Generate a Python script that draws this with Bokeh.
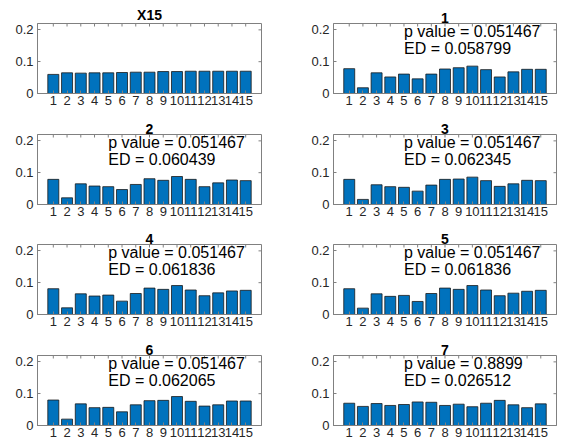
import math
from bokeh.plotting import figure
from bokeh.layouts import gridplot
from bokeh.models import Label, FixedTicker, Range1d, ColumnDataSource
from bokeh.embed import file_html
from bokeh.resources import INLINE

# ---------------- data ----------------
categories = list(range(1, 16))
y_ticks = [0, 0.1, 0.2]
y_tick_labels = ["0", "0.1", "0.2"]

titles = ["X15", "1", "2", "3", "4", "5", "6", "7"]
p_values = [None, "0.051467", "0.051467", "0.051467", "0.051467", "0.051467", "0.051467", "0.8899"]
ed_values = [None, "0.058799", "0.060439", "0.062345", "0.061836", "0.061836", "0.062065", "0.026512"]

vals_x15 = [0.060, 0.065, 0.064, 0.065, 0.065, 0.066, 0.067, 0.067, 0.069, 0.069, 0.070, 0.070, 0.070, 0.070, 0.070]
vals_1 = [0.078, 0.018, 0.065, 0.052, 0.061, 0.046, 0.061, 0.077, 0.081, 0.086, 0.075, 0.052, 0.068, 0.076, 0.076]
vals_2 = [0.079, 0.021, 0.065, 0.058, 0.056, 0.047, 0.063, 0.081, 0.076, 0.088, 0.079, 0.056, 0.068, 0.077, 0.075]
vals_3 = [0.079, 0.016, 0.062, 0.056, 0.054, 0.042, 0.061, 0.079, 0.080, 0.086, 0.075, 0.057, 0.065, 0.076, 0.075]
vals_4 = [0.081, 0.021, 0.065, 0.058, 0.061, 0.042, 0.066, 0.083, 0.079, 0.091, 0.077, 0.059, 0.068, 0.074, 0.076]
vals_5 = [0.081, 0.020, 0.065, 0.057, 0.060, 0.041, 0.066, 0.083, 0.079, 0.091, 0.077, 0.059, 0.067, 0.073, 0.076]
vals_6 = [0.080, 0.020, 0.068, 0.056, 0.057, 0.043, 0.065, 0.078, 0.079, 0.091, 0.076, 0.061, 0.065, 0.077, 0.077]
vals_7 = [0.070, 0.060, 0.069, 0.063, 0.066, 0.074, 0.073, 0.063, 0.067, 0.059, 0.070, 0.079, 0.065, 0.056, 0.068]

series = [vals_x15, vals_1, vals_2, vals_3, vals_4, vals_5, vals_6, vals_7]

# ---------------- styling / layout ----------------
FONT = "Liberation Sans"
BAR_COLOR = "#0072BD"
AXIS_COLOR = "#808080"
TEXT_COLOR = "#262626"
X_START, X_END = -0.15, 16.15
Y_START, Y_END = 0.0, 0.22

# per column: (min_border_left, frame width, min_border_right)
col_spec = [(37, 224, 29), (43, 223, 6)]
# per row: (min_border_top, frame height, min_border_bottom)
row_spec = [(23, 70, 18), (23, 70, 18), (22, 70, 19), (22, 70, 21)]


def make_panel(idx):
    r, c = divmod(idx, 2)
    bl, fw, br = col_spec[c]
    bt, fh, bb = row_spec[r]
    p = figure(width=bl + fw + br, height=bt + fh + bb,
               min_border_left=bl, min_border_right=br,
               min_border_top=bt, min_border_bottom=bb,
               x_range=Range1d(X_START, X_END), y_range=Range1d(Y_START, Y_END),
               output_backend="svg", toolbar_location=None, tools="")
    p.title.text = titles[idx]
    p.title.align = "center"
    p.title.text_font = FONT
    p.title.text_font_style = "bold"
    p.title.text_font_size = "14px"
    p.title.text_color = "#000000"
    p.title.standoff = 2
    p.title.offset = 0

    src = ColumnDataSource(dict(x=categories, top=series[idx]))
    p.vbar(x="x", top="top", bottom=0, width=0.8, source=src,
           fill_color=BAR_COLOR, line_color="#1a1a1a", line_width=0.8)

    # inward box ticks on the top and right edges (clipped to the frame)
    p.scatter(x=categories, y=[Y_END] * len(categories), marker="dash",
              angle=math.pi / 2, size=6, line_color=AXIS_COLOR, line_width=1)
    p.scatter(x=[X_END] * len(y_ticks), y=y_ticks, marker="dash",
              size=6, line_color=AXIS_COLOR, line_width=1)

    p.xgrid.visible = False
    p.ygrid.visible = False
    p.outline_line_color = AXIS_COLOR
    p.outline_line_width = 1
    p.background_fill_color = "white"
    p.border_fill_color = "white"

    for ax in p.xaxis:
        ax.ticker = FixedTicker(ticks=categories)
        ax.major_label_overrides = {k: str(k) for k in categories}
    for ax in p.yaxis:
        ax.ticker = FixedTicker(ticks=y_ticks)
        ax.major_label_overrides = dict(zip(y_ticks, y_tick_labels))

    for ax in list(p.xaxis) + list(p.yaxis):
        ax.axis_line_color = AXIS_COLOR
        ax.major_tick_line_color = AXIS_COLOR
        ax.major_tick_in = 3
        ax.major_tick_out = 0
        ax.minor_tick_line_color = None
        ax.major_label_text_font = FONT
        ax.major_label_text_font_size = "13px"
        ax.major_label_text_color = TEXT_COLOR
    p.xaxis.major_label_standoff = 2
    p.yaxis.major_label_standoff = 4

    if p_values[idx] is not None:
        for yy, txt in ((0.194, "p value = " + p_values[idx]),
                        (0.142, "ED = " + ed_values[idx])):
            p.add_layout(Label(x=5, y=yy, text=txt, text_font=FONT,
                               text_font_size="16px", text_color="#000000",
                               text_baseline="middle", text_align="left"))
    return p


panels = [make_panel(i) for i in range(8)]
grid = gridplot([panels[i:i + 2] for i in range(0, 8, 2)], toolbar_location=None)

open("out.html", "w").write(file_html(grid, INLINE))
